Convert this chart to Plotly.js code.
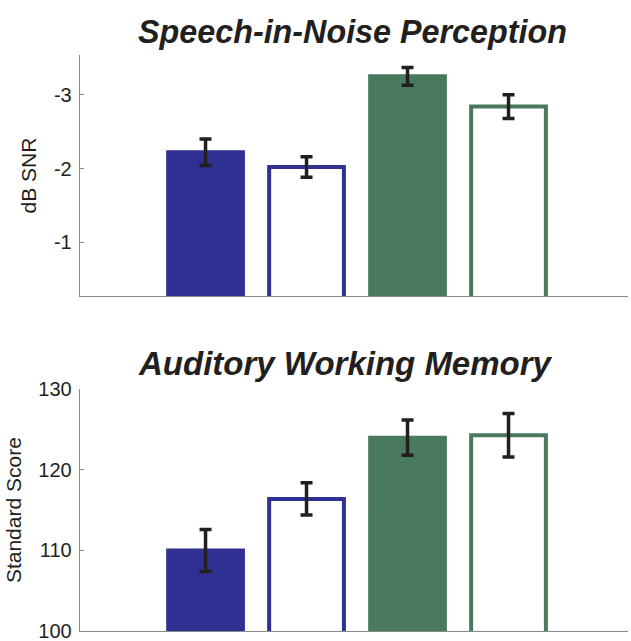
<!DOCTYPE html>
<html>
<head>
<meta charset="utf-8">
<script src="https://cdn.plot.ly/plotly-3.0.1.min.js"></script>
<style>html,body{margin:0;padding:0;background:#fff}#chart{width:631px;height:641px}</style>
</head>
<body>
<div id="chart"></div>
<script>
// Data
var conditions = ['Group 1A', 'Group 1B', 'Group 2A', 'Group 2B'];
var snrValues = [-2.22, -2.02, -3.25, -2.84];
var snrErrors = [0.18, 0.14, 0.12, 0.16];
var memValues = [110.0, 116.4, 124.0, 124.3];
var memErrors = [2.6, 2.0, 2.2, 2.7];
var snrTicks = [-3, -2, -1];
var memTicks = [100, 110, 120, 130];
var titles = ['Speech-in-Noise Perception', 'Auditory Working Memory'];
var yTitles = ['dB SNR', 'Standard Score'];

// Styles
var blue = '#2E3192', green = '#4A7A5E';
var fillColors = [blue, '#ffffff', green, '#ffffff'];
var lineColors = [blue, blue, green, green];
var FONT = 'Liberation Sans, Arial, Helvetica, sans-serif';
var axisGray = '#8a8a8a';
var txt = '#231F20';

function barTrace(vals, errs, xa, ya) {
  return {
    type: 'bar', x: conditions, y: vals, xaxis: xa, yaxis: ya,
    width: 0.74,
    marker: {color: fillColors, line: {color: lineColors, width: 4}},
    error_y: {type: 'data', array: errs, visible: true, color: txt, thickness: 3.5, width: 6},
    hoverinfo: 'none', showlegend: false
  };
}

var data = [barTrace(snrValues, snrErrors, 'x', 'y'), barTrace(memValues, memErrors, 'x2', 'y2')];

var xCommon = {
  type: 'category', categoryorder: 'array', categoryarray: conditions,
  range: [-1.243, 4.183], showline: true, linecolor: axisGray, linewidth: 1.3,
  showticklabels: false, ticks: '', showgrid: false, zeroline: false, fixedrange: true
};
function yCommon(title, ticks, range, domain) {
  return {
    domain: domain, range: range, tickvals: ticks, ticktext: ticks.map(String),
    showline: true, linecolor: axisGray, linewidth: 1.3,
    ticks: 'inside', ticklen: 4, tickcolor: axisGray, ticklabelstandoff: 3,
    ticklabeloverflow: 'allow',
    tickfont: {family: FONT, size: 20, color: txt},
    title: {text: title, font: {family: FONT, size: 21, color: txt}, standoff: 11},
    showgrid: false, zeroline: false, fixedrange: true
  };
}

var layout = {
  width: 631, height: 641,
  margin: {l: 80, r: 3, t: 55, b: 10},
  paper_bgcolor: '#fff', plot_bgcolor: '#fff',
  xaxis: Object.assign({}, xCommon, {anchor: 'y', domain: [0, 1]}),
  xaxis2: Object.assign({}, xCommon, {anchor: 'y2', domain: [0, 1]}),
  yaxis: yCommon(yTitles[0], snrTicks, [-0.27, -3.54], [0.5816, 1]),
  yaxis2: yCommon(yTitles[1], memTicks, [100, 130], [0, 0.4196]),
  bargap: 0,
  annotations: [
    {text: '<b><i>' + titles[0] + '</i></b>', xref: 'paper', yref: 'paper', x: 0.497, y: 1.04, xanchor: 'center', yanchor: 'middle', showarrow: false, font: {family: FONT, size: 32.3, color: txt}},
    {text: '<b><i>' + titles[1] + '</i></b>', xref: 'paper', yref: 'paper', x: 0.484, y: 0.4640, xanchor: 'center', yanchor: 'middle', showarrow: false, font: {family: FONT, size: 33, color: txt}}
  ]
};

Plotly.newPlot('chart', data, layout, {staticPlot: true, displayModeBar: false});
</script>
</body>
</html>
